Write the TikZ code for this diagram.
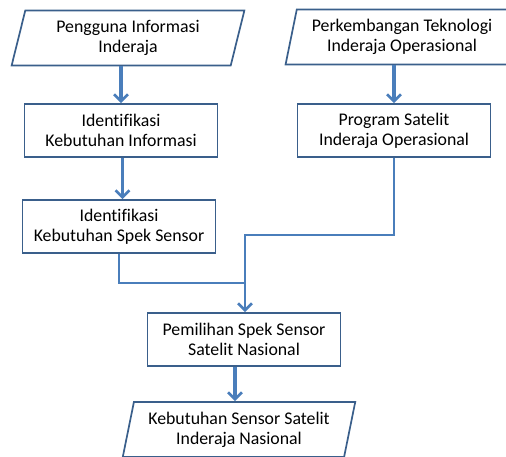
\documentclass[tikz,border=0pt]{standalone}
\usepackage{fontspec}
\setmainfont{Carlito}[Ligatures=NoCommon]
\usetikzlibrary{shapes.geometric,arrows.meta}
\definecolor{boxline}{HTML}{3A5F8B}
\definecolor{flowline}{HTML}{4A7EBB}
\tikzset{
  kotak/.style={draw=boxline,line width=1.7pt,fill=white,align=center,
    minimum width=193pt,minimum height=53pt,inner sep=2pt},
  jajar/.style={draw=boxline,line width=1.7pt,fill=white,align=center,
    trapezium,trapezium left angle=76,trapezium right angle=104,
    trapezium stretches=true,minimum width=233pt,minimum height=55pt,inner sep=2pt},
  ujung/.style={-{Straight Barb[length=7pt,width=14pt,line width=2.6pt]}},
  panah/.style={draw=flowline,line width=3.2pt,ujung},
  garis/.style={draw=flowline,line width=2pt},
}
\begin{document}
\begin{tikzpicture}[x=1pt,y=-1pt,font=\fontsize{17.8}{20}\selectfont]
    \useasboundingbox (0,0) rectangle (506,456);
    \clip (0,0) rectangle (506,456);
    \node[jajar] (pengguna) at (128,38) {Pengguna Informasi\\Inderaja} ;
    \node[jajar] (teknologi) at (402,37) {Perkembangan Teknologi\\Inderaja Operasional} ;
    \node[kotak] (infor) at (121,130.5) {Identifikasi\\Kebutuhan Informasi} ;
    \node[kotak] (program) at (394,130.5) {Program Satelit\\Inderaja Operasional} ;
    \node[kotak] (spek) at (119,226.5) {Identifikasi\\Kebutuhan Spek Sensor} ;
    \node[kotak] (pilihan) at (244,339.5) {Pemilihan Spek Sensor\\Satelit Nasional} ;
    \node[jajar] (keluaran) at (239,429.5) {Kebutuhan Sensor Satelit\\Inderaja Nasional} ;
    \coordinate (gabung) at (245,283) ;
    \coordinate (belok) at (245,235) ;
    % panah utama
    \draw[panah] (pengguna.south -| infor.north) -- (infor.north) ;
    \draw[panah] ([xshift=1.5pt]infor.south) -- ([xshift=1.5pt]infor.south |- spek.north) ;
    \draw[panah] (teknologi.south -| program.north) -- (program.north) ;
    \draw[garis] (spek.south) |- (gabung) ;
    \draw[garis,ujung] (program.south) |- (belok) -- (belok |- pilihan.north) ;
    \draw[panah] ([xshift=-9pt]pilihan.south) -- ([xshift=-9pt]pilihan.south |- keluaran.north) ;
  \end{tikzpicture}
\end{document}
